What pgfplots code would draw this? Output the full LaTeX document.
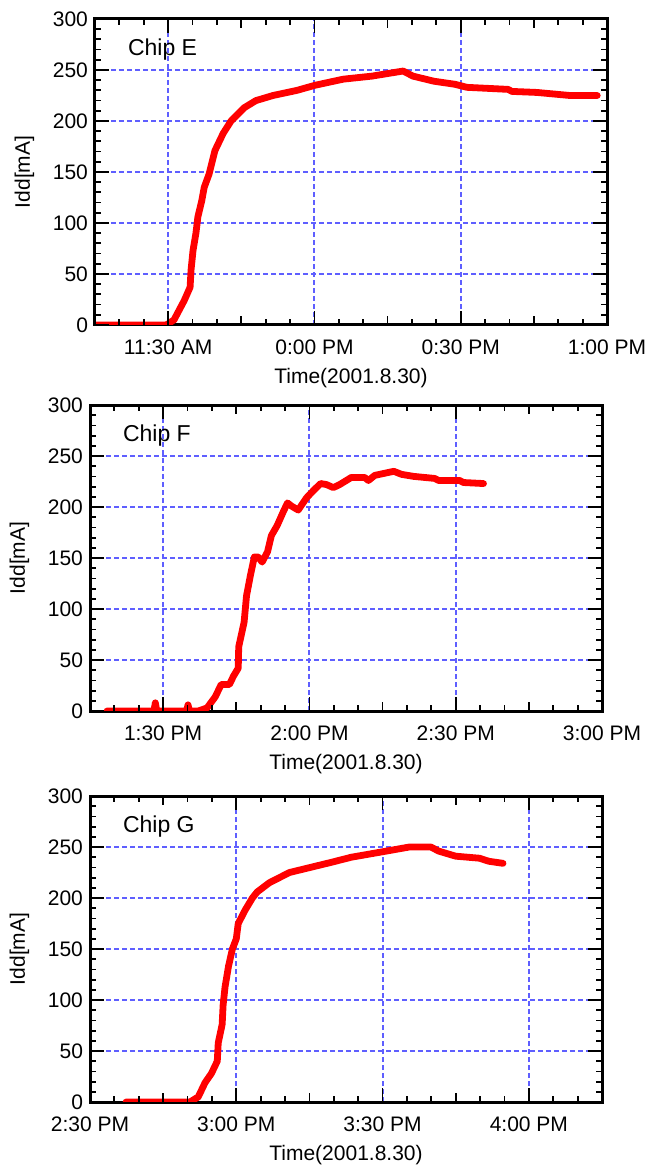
\documentclass[border=0pt]{standalone}
\usepackage{fontspec}
\setmainfont{Liberation Sans}
\usepackage{pgfplots}
\pgfplotsset{compat=1.18}
\definecolor{gridblue}{RGB}{95,95,255}
\pgfplotsset{
 chip/.style={
  scale only axis, width=256pt, height=153pt,
  xmin=0, xmax=105, ymin=0, ymax=300,
  ytick={0,50,...,300},
  xtick={15,45,75,105},
  major tick length=0pt,
  xmajorgrids=true, ymajorgrids=true,
  major grid style={gridblue, line width=1pt, dash pattern=on 2.5pt off 1.5pt},
  axis line style={line width=1.5pt},
  tick label style={font=\fontsize{10.5}{12}\selectfont},
  xticklabel style={yshift=-4pt},
  /pgf/number format/assume math mode=true,
  xlabel={Time(2001.8.30)},
  ylabel={Idd[mA]},
  xlabel style={font=\fontsize{10.5}{12}\selectfont, at={(axis description cs:0.5,0)}, yshift=-26.5pt, anchor=center},
  ylabel style={font=\fontsize{10.5}{12}\selectfont, at={(axis description cs:-0.138,0.5)}, anchor=center},
 },
 tk/.style={
  scale only axis, width=256pt, height=153pt,
  xmin=0, xmax=105, ymin=0, ymax=300,
  xticklabels={}, yticklabels={},
  tick style={black, line width=0.9pt},
 },
 curve/.style={red, line width=3.4pt, line join=round, line cap=round},
}
% #1 = position, #2 = half-hour ticks, #3 = quarter-hour ticks
\newcommand{\tickaxes}[3]{%
\begin{axis}[tk, at={#1}, anchor=south west, xtick={0,5,...,105}, ytick={0,10,...,300}, major tick length=3pt]
\addplot[draw=none] coordinates {(50,150)};
\end{axis}
\begin{axis}[tk, at={#1}, anchor=south west, xtick={#3}, ytick={0,50,...,300}, major tick length=4.5pt]
\addplot[draw=none] coordinates {(50,150)};
\end{axis}
\begin{axis}[tk, at={#1}, anchor=south west, xtick={#2}, ytick={0,50,...,300}, major tick length=7pt]
\addplot[draw=none] coordinates {(50,150)};
\end{axis}}
\begin{document}
\begin{tikzpicture}
\path[use as bounding box] (-47.5pt,-423pt) rectangle (275pt,162.5pt);
% Chip E
\begin{axis}[chip, name=e, at={(0pt,0pt)}, anchor=south west,
  xticklabels={11:30 AM,0:00 PM,0:30 PM,1:00 PM}]
\addplot[curve] coordinates {
(0,0) (14.4,0) (14.8,0.5) (16.2,5) (18.3,24) (19.5,37) (19.7,54) (20.1,73) (20.7,90)
(21.1,106) (21.9,122) (22.4,135) (23.4,148) (24.6,171) (26.3,188) (27.9,200)
(30.6,213) (33.0,220) (36.5,225) (41.4,230) (45.1,235) (50.9,241) (56.8,244)
(63.2,249) (65.2,244) (69.5,239) (73.8,236) (76.3,233) (84.7,231) (85.5,229)
(90.6,228) (97.4,225) (103.0,225)
};
\end{axis}
\tickaxes{(0pt,0pt)}{15,45,75,105}{0,30,60,90}
\node[anchor=west, xshift=13pt, yshift=-15.5pt, font=\fontsize{11.5}{13}\selectfont] at (e.north west) {Chip E};
% Chip F
\begin{axis}[chip, name=f, at={(-2.5pt,-193pt)}, anchor=south west,
  xticklabels={1:30 PM,2:00 PM,2:30 PM,3:00 PM}]
\addplot[curve] coordinates {
(3.5,0) (13.1,0) (13.4,8) (13.7,0) (19.8,0) (20.1,6) (20.4,0) (22.2,0) (24.0,3)
(25.7,14) (26.9,26) (28.6,26) (29.4,34) (30.4,42) (30.5,63) (31.6,87) (32.1,113)
(32.9,133) (33.7,151) (34.5,151) (35.3,146) (36.4,156) (37.2,172) (38.4,182)
(39.7,196) (40.5,204) (41.3,201) (42.7,197) (44.4,209) (46.0,217) (47.3,223)
(48.5,222) (49.9,219) (51.2,222) (53.6,229) (56.3,229) (57.1,226) (58.4,231)
(62.3,235) (63.9,232) (66.4,230) (70.7,228) (71.5,226) (75.8,226) (76.6,224) (80.7,223)
};
\end{axis}
\tickaxes{(-2.5pt,-193pt)}{15,45,75,105}{0,30,60,90}
\node[anchor=west, xshift=13pt, yshift=-15.5pt, font=\fontsize{11.5}{13}\selectfont] at (f.north west) {Chip F};
% Chip G
\begin{axis}[chip, name=g, at={(-2.5pt,-388.5pt)}, anchor=south west,
  xtick={0,30,60,90},
  xticklabels={2:30 PM,3:00 PM,3:30 PM,4:00 PM}]
\addplot[curve] coordinates {
(7.4,0) (20.5,0) (22.2,5) (23.6,19) (24.9,28) (26.1,40) (26.3,58) (27.1,76)
(27.3,95) (27.7,113) (28.4,133) (29.2,150) (30.0,160) (30.4,175) (31.8,188)
(33.3,200) (34.3,206) (36.8,215) (40.9,225) (45.2,230) (49.5,235) (53.6,240)
(59.6,245) (65.5,250) (69.9,250) (71.5,246) (75.0,241) (79.9,239) (81.8,236) (84.7,234)
};
\end{axis}
\tickaxes{(-2.5pt,-388.5pt)}{0,30,60,90}{15,45,75,105}
\node[anchor=west, xshift=13pt, yshift=-15.5pt, font=\fontsize{11.5}{13}\selectfont] at (g.north west) {Chip G};
\end{tikzpicture}
\end{document}
